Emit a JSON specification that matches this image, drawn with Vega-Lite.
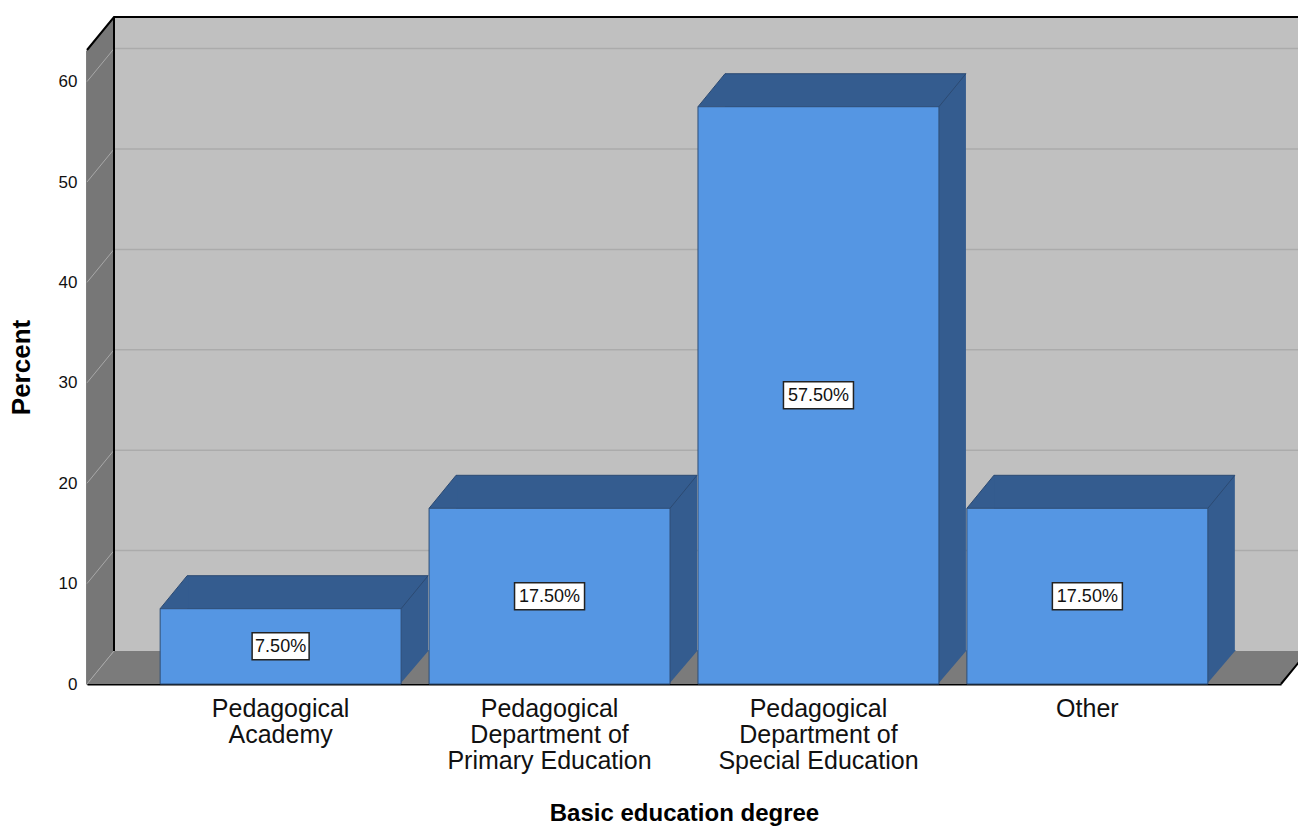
{
  "$schema": "https://vega.github.io/schema/vega-lite/v6.json",
  "width": 1194,
  "height": 634,
  "autosize": {"type": "none"},
  "padding": {"left": 87, "top": 50, "right": 17, "bottom": 143},
  "background": "white",
  "config": {
    "font": "Liberation Sans",
    "view": {"stroke": null},
    "axisX": {
      "labelAngle": 0,
      "labelFontSize": 25,
      "labelLineHeight": 26,
      "labelColor": "#111111",
      "labelPadding": 12,
      "labelLimit": 400,
      "labelExpr": "split(replace(replace(datum.value, 'Pedagogical ', 'Pedagogical|'), ' of ', ' of|'), '|')",
      "ticks": false,
      "grid": false,
      "domainColor": "#000000",
      "domainWidth": 2,
      "titleFontSize": 24,
      "titleFontWeight": "bold",
      "titleColor": "#000000",
      "titlePadding": 28,
      "zindex": 1
    },
    "axisY": {
      "tickCount": 7,
      "labelFontSize": 17,
      "labelColor": "#111111",
      "labelPadding": 10,
      "ticks": false,
      "grid": false,
      "domainColor": "#000000",
      "domainWidth": 2,
      "titleFontSize": 26,
      "titleFontWeight": "bold",
      "titleColor": "#000000",
      "titlePadding": 24,
      "zindex": 1
    }
  },
  "datasets": {
    "degrees": [
      {"degree": "Pedagogical Academy", "percent": 7.5},
      {"degree": "Pedagogical Department of Primary Education", "percent": 17.5},
      {"degree": "Pedagogical Department of Special Education", "percent": 57.5},
      {"degree": "Other", "percent": 17.5}
    ],
    "ticks": [
      {"tick": 0}, {"tick": 10}, {"tick": 20}, {"tick": 30},
      {"tick": 40}, {"tick": 50}, {"tick": 60}
    ],
    "frame": [{"part": "box"}]
  },
  "data": {"name": "degrees"},
  "layer": [
    {
      "data": {"name": "frame"},
      "mark": {"type": "rect", "fill": "#c0c0c0", "xOffset": 27, "x2Offset": 27, "yOffset": -33, "y2Offset": -33},
      "encoding": {"x": {"value": 0}, "x2": {"value": "width"}, "y": {"value": 0}, "y2": {"value": "height"}}
    },
    {
      "data": {"name": "ticks"},
      "transform": [{"filter": "datum.tick > 0"}],
      "mark": {"type": "rule", "color": "#ababab", "strokeWidth": 1.5, "xOffset": 27, "x2Offset": 27, "yOffset": -33},
      "encoding": {
        "y": {"field": "tick", "type": "quantitative", "scale": {"domain": [0, 63.15], "nice": false}, "title": "Percent"},
        "x": {"value": 0},
        "x2": {"value": "width"}
      }
    },
    {
      "data": {"name": "frame"},
      "mark": {"type": "point", "filled": true, "fill": "#777777", "opacity": 1, "size": 4, "strokeWidth": 0,
               "shape": "M0,0 L0,-634 L27,-667 L27,-33 Z"},
      "encoding": {"x": {"value": 0}, "y": {"value": "height"}}
    },
    {
      "data": {"name": "frame"},
      "mark": {"type": "point", "filled": true, "fill": "#7b7b7b", "opacity": 1, "size": 4, "strokeWidth": 0,
               "shape": "M0,0 L1194,0 L1221,-33 L27,-33 Z"},
      "encoding": {"x": {"value": 0}, "y": {"value": "height"}}
    },
    {
      "data": {"name": "ticks"},
      "mark": {"type": "point", "filled": false, "stroke": "#a8a8a8", "strokeWidth": 1, "opacity": 1, "size": 4,
               "shape": "M0,0 L27,-33"},
      "encoding": {
        "x": {"value": 0},
        "y": {"field": "tick", "type": "quantitative", "scale": {"domain": [0, 63.15], "nice": false}, "title": "Percent"}
      }
    },
    {
      "data": {"name": "frame"},
      "mark": {"type": "point", "filled": false, "stroke": "#000000", "strokeWidth": 2, "opacity": 1, "size": 4,
               "shape": "M0,-634 L27,-667 L1221,-667 M27,-667 L27,-33 M1194,0 L1221,-33"},
      "encoding": {"x": {"value": 0}, "y": {"value": "height"}}
    },
    {
      "mark": {"type": "bar", "fill": "#345c8f", "xOffset": 27, "yOffset": -33, "y2Offset": -33},
      "encoding": {
        "x": {"field": "degree", "type": "nominal", "sort": null, "scale": {"paddingInner": 0.104, "paddingOuter": 0.272}, "title": "Basic education degree"},
        "y": {"field": "percent", "type": "quantitative", "scale": {"domain": [0, 63.15], "nice": false}, "title": "Percent"},
        "y2": {"datum": 0}
      }
    },
    {
      "mark": {"type": "point", "filled": true, "fill": "#345c8f", "opacity": 1, "size": 4, "strokeWidth": 0,
               "shape": "M0,0 L27,-33 L28,-33 L28,0 Z"},
      "encoding": {
        "x": {"field": "degree", "type": "nominal", "sort": null, "bandPosition": 0, "scale": {"paddingInner": 0.104, "paddingOuter": 0.272}, "title": "Basic education degree"},
        "y": {"field": "percent", "type": "quantitative", "scale": {"domain": [0, 63.15], "nice": false}, "title": "Percent"}
      }
    },
    {
      "mark": {"type": "point", "filled": true, "fill": "#345c8f", "opacity": 1, "size": 4, "strokeWidth": 0,
               "shape": "M-1,0 L-1,-34 L28,-34 Z"},
      "encoding": {
        "x": {"field": "degree", "type": "nominal", "sort": null, "bandPosition": 1, "scale": {"paddingInner": 0.104, "paddingOuter": 0.272}, "title": "Basic education degree"},
        "y": {"datum": 0}
      }
    },
    {
      "mark": {"type": "bar", "fill": "#5596e3", "stroke": "#2f4e76", "strokeWidth": 1},
      "encoding": {
        "x": {"field": "degree", "type": "nominal", "sort": null, "scale": {"paddingInner": 0.104, "paddingOuter": 0.272}, "title": "Basic education degree"},
        "y": {"field": "percent", "type": "quantitative", "scale": {"domain": [0, 63.15], "nice": false}, "title": "Percent"}
      }
    },
    {
      "mark": {"type": "point", "filled": false, "stroke": "#2c4a72", "strokeWidth": 1, "opacity": 1, "size": 4,
               "shape": "M0,0 L27,-33 L268,-33"},
      "encoding": {
        "x": {"field": "degree", "type": "nominal", "sort": null, "bandPosition": 0, "scale": {"paddingInner": 0.104, "paddingOuter": 0.272}, "title": "Basic education degree"},
        "y": {"field": "percent", "type": "quantitative", "scale": {"domain": [0, 63.15], "nice": false}, "title": "Percent"}
      }
    },
    {
      "mark": {"type": "point", "filled": false, "stroke": "#2c4a72", "strokeWidth": 1, "opacity": 1, "size": 4,
               "shape": "M0,0 L27,-33"},
      "encoding": {
        "x": {"field": "degree", "type": "nominal", "sort": null, "bandPosition": 1, "scale": {"paddingInner": 0.104, "paddingOuter": 0.272}, "title": "Basic education degree"},
        "y": {"field": "percent", "type": "quantitative", "scale": {"domain": [0, 63.15], "nice": false}, "title": "Percent"}
      }
    },
    {
      "transform": [{"calculate": "datum.percent / 2", "as": "mid"}],
      "mark": {"type": "point", "filled": true, "fill": "#ffffff", "stroke": "#222222", "strokeWidth": 1.5, "opacity": 1, "size": 4},
      "encoding": {
        "x": {"field": "degree", "type": "nominal", "sort": null, "scale": {"paddingInner": 0.104, "paddingOuter": 0.272}, "title": "Basic education degree"},
        "y": {"field": "mid", "type": "quantitative", "scale": {"domain": [0, 63.15], "nice": false}, "title": "Percent"},
        "shape": {
          "condition": {"test": "datum.percent < 10", "value": "M-28.5,-13.5 L28.5,-13.5 L28.5,13.5 L-28.5,13.5 Z"},
          "value": "M-35,-13.5 L35,-13.5 L35,13.5 L-35,13.5 Z"
        }
      }
    },
    {
      "transform": [
        {"calculate": "datum.percent / 2", "as": "mid"},
        {"calculate": "format(datum.percent, '.2f') + '%'", "as": "label"}
      ],
      "mark": {"type": "text", "fontSize": 18, "color": "#111111", "align": "center", "baseline": "middle", "dy": 1},
      "encoding": {
        "x": {"field": "degree", "type": "nominal", "sort": null, "scale": {"paddingInner": 0.104, "paddingOuter": 0.272}, "title": "Basic education degree"},
        "y": {"field": "mid", "type": "quantitative", "scale": {"domain": [0, 63.15], "nice": false}, "title": "Percent"},
        "text": {"field": "label", "type": "nominal"}
      }
    }
  ]
}
